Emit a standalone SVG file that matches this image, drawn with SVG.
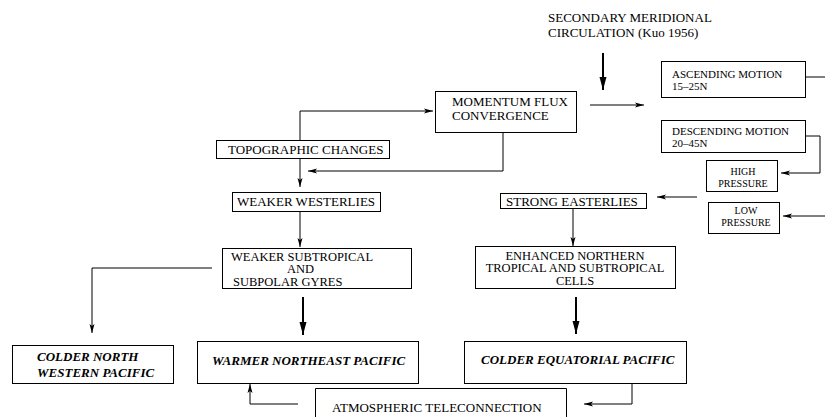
<svg xmlns="http://www.w3.org/2000/svg" width="825" height="417" viewBox="0 0 825 417">
  <style>
    .box { fill: #fff; stroke: #000; stroke-width: 1; }
    .t { font-family: "Liberation Serif", "Times New Roman", serif; font-size: 13px; fill: #000; }
    .m { font-size: 12.5px; }
    .s { font-size: 11px; }
    .xs { font-size: 10px; }
    .bi { font-weight: bold; font-style: italic; }
    .ln { fill: none; stroke: #000; stroke-width: 1; }
    .thin { marker-end: url(#ah); }
    .thick { fill: none; stroke: #000; stroke-width: 2; marker-end: url(#ahb); }
  </style>
  <defs>
    <marker id="ah" markerUnits="userSpaceOnUse" markerWidth="10" markerHeight="6" refX="9" refY="3" orient="auto">
      <path d="M0,0.5 L9,3 L0,5.5 L2,3 Z" fill="#000"/>
    </marker>
    <marker id="ahb" markerUnits="userSpaceOnUse" markerWidth="14" markerHeight="8" refX="13" refY="4" orient="auto">
      <path d="M0,0.5 L13,4 L0,7.5 Z" fill="#000"/>
    </marker>
  </defs>
  <rect width="825" height="417" fill="#fff"/>

  <!-- connectors -->
  <g id="connectors">
    <path class="thick" d="M603,53 V90"/>
    <path class="ln thin" d="M590,105 H644"/>
    <path class="ln" d="M806,77 H825"/>
    <path class="ln thin" d="M806,136 H820 V173 H781"/>
    <path class="ln thin" d="M825,216 H783"/>
    <path class="ln thin" d="M697,197 H657"/>
    <path class="ln thin" d="M300,140 V111 H433"/>
    <path class="ln thin" d="M300,158 V187"/>
    <path class="ln thin" d="M503,133 V171 H308"/>
    <path class="ln thin" d="M300,211 V247"/>
    <path class="ln thin" d="M573,208 V246"/>
    <path class="ln thin" d="M212,268 H92 V333"/>
    <path class="thick" d="M303,297 V335"/>
    <path class="thick" d="M576,297 V334"/>
    <path class="ln thin" d="M632,383 V404 H584"/>
    <path class="ln thin" d="M298,404 H250 V384"/>
  </g>

  <!-- header label -->
  <g id="secondary-circulation">
    <text class="t" x="548" y="22">SECONDARY MERIDIONAL</text>
    <text class="t" x="548" y="37">CIRCULATION (Kuo 1956)</text>
  </g>

  <g id="momentum-flux">
    <rect class="box" x="435.5" y="91.5" width="141" height="41"/>
    <text class="t" x="452" y="106">MOMENTUM FLUX</text>
    <text class="t" x="452" y="119.5">CONVERGENCE</text>
  </g>

  <g id="ascending-motion">
    <rect class="box" x="661.5" y="61.5" width="144" height="36"/>
    <text class="t s" x="672" y="78">ASCENDING MOTION</text>
    <text class="t s" x="672" y="90">15–25N</text>
  </g>

  <g id="descending-motion">
    <rect class="box" x="661.5" y="120.5" width="144" height="32"/>
    <text class="t s" x="672" y="134.5">DESCENDING MOTION</text>
    <text class="t s" x="672" y="147">20–45N</text>
  </g>

  <g id="high-pressure">
    <rect class="box" x="706.5" y="160.5" width="71" height="31"/>
    <text class="t xs" x="743" y="175" text-anchor="middle">HIGH</text>
    <text class="t xs" x="743" y="187" text-anchor="middle">PRESSURE</text>
  </g>

  <g id="low-pressure">
    <rect class="box" x="708.5" y="202.5" width="71" height="31"/>
    <text class="t xs" x="746" y="213.5" text-anchor="middle">LOW</text>
    <text class="t xs" x="746" y="225.5" text-anchor="middle">PRESSURE</text>
  </g>

  <g id="topographic-changes">
    <rect class="box" x="216.5" y="140.5" width="173" height="18"/>
    <text class="t" x="228" y="153.5">TOPOGRAPHIC CHANGES</text>
  </g>

  <g id="weaker-westerlies">
    <rect class="box" x="232.5" y="192.5" width="148" height="19"/>
    <text class="t" x="237" y="205.5">WEAKER WESTERLIES</text>
  </g>

  <g id="strong-easterlies">
    <rect class="box" x="500.5" y="193.5" width="146" height="15"/>
    <text class="t" x="506" y="205.5">STRONG EASTERLIES</text>
  </g>

  <g id="weaker-gyres">
    <rect class="box" x="222.5" y="248.5" width="189" height="40"/>
    <text class="t m" x="231" y="260.5">WEAKER SUBTROPICAL</text>
    <text class="t m" x="287" y="273">AND</text>
    <text class="t m" x="233" y="285.5">SUBPOLAR GYRES</text>
  </g>

  <g id="enhanced-cells">
    <rect class="box" x="475.5" y="246.5" width="200" height="42"/>
    <text class="t m" x="575" y="259.5" text-anchor="middle">ENHANCED NORTHERN</text>
    <text class="t m" x="575" y="272" text-anchor="middle">TROPICAL AND SUBTROPICAL</text>
    <text class="t m" x="575" y="284.5" text-anchor="middle">CELLS</text>
  </g>

  <g id="colder-northwestern-pacific">
    <rect class="box" x="12.5" y="345.5" width="161" height="38"/>
    <text class="t bi" x="37" y="361">COLDER NORTH</text>
    <text class="t bi" x="37" y="377">WESTERN PACIFIC</text>
  </g>

  <g id="warmer-northeast-pacific">
    <rect class="box" x="197.5" y="341.5" width="221" height="42"/>
    <text class="t bi" x="212" y="365">WARMER NORTHEAST PACIFIC</text>
  </g>

  <g id="colder-equatorial-pacific">
    <rect class="box" x="464.5" y="341.5" width="222" height="42"/>
    <text class="t bi" x="481" y="363.5">COLDER EQUATORIAL PACIFIC</text>
  </g>

  <g id="atmospheric-teleconnection">
    <path class="ln" d="M315.5,420 V388.5 H566.5 V420"/>
    <text class="t" x="332" y="412">ATMOSPHERIC TELECONNECTION</text>
  </g>
</svg>
